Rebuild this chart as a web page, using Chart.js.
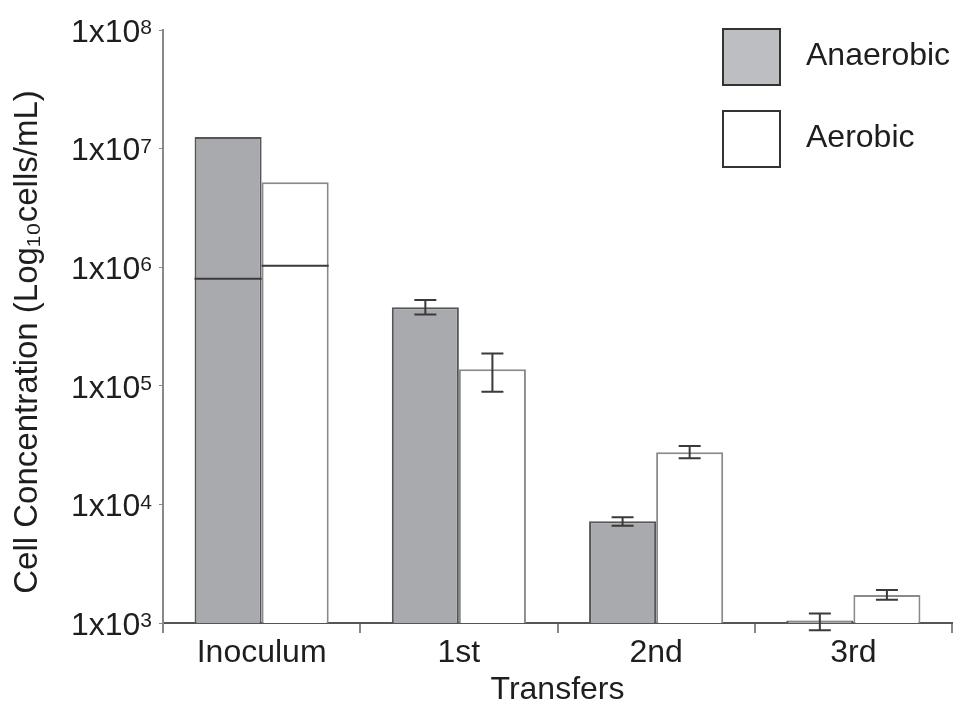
<!DOCTYPE html>
<html>
<head>
<meta charset="utf-8">
<script src="https://cdn.jsdelivr.net/npm/chart.js@4"></script>
<style>
  html, body { margin: 0; padding: 0; background: #fff; }
  #wrap { width: 956px; height: 712px; }
</style>
</head>
<body>
<div id="wrap"><canvas id="cells" width="956" height="712"></canvas></div>
<script>
const categories = ['Inoculum', '1st', '2nd', '3rd'];
const anaerobic = [1.25e7, 4.6e5, 7.2e3, 1.05e3];
const anaerobicLow = [8.0e5, 4.0e5, 6.6e3, 8.7e2];
const anaerobicHigh = [null, 5.3e5, 7.8e3, 1.2e3];
const aerobic = [5.2e6, 1.38e5, 2.75e4, 1.72e3];
const aerobicLow = [1.03e6, 8.9e4, 2.45e4, 1.57e3];
const aerobicHigh = [null, 1.87e5, 3.1e4, 1.9e3];
const yTicks = [1e3, 1e4, 1e5, 1e6, 1e7, 1e8];
const yTitle = 'Cell Concentration (Log\u2081\u2080cells/mL)';

const FONT = '"Liberation Sans", Arial, Helvetica, sans-serif';
const TEXT = '#1e1e1e';

// error bars; when there is no upper value the lower one spans the bar
const errorBars = {
  id: 'errorBars',
  afterDatasetsDraw(chart) {
    const ctx = chart.ctx;
    const y = chart.scales.y;
    const sets = [[anaerobicLow, anaerobicHigh], [aerobicLow, aerobicHigh]];
    ctx.save();
    ctx.strokeStyle = '#3a3a3a';
    ctx.lineWidth = 2;
    sets.forEach(([lo, hi], di) => {
      chart.getDatasetMeta(di).data.forEach((bar, i) => {
        const half = bar.width / 2;
        const yl = y.getPixelForValue(lo[i]);
        ctx.beginPath();
        if (hi[i] == null) {
          ctx.moveTo(bar.x - half, yl);
          ctx.lineTo(bar.x + half, yl);
        } else {
          const yh = y.getPixelForValue(hi[i]);
          const cap = 11;
          ctx.moveTo(bar.x, yl); ctx.lineTo(bar.x, yh);
          ctx.moveTo(bar.x - cap, yl); ctx.lineTo(bar.x + cap, yl);
          ctx.moveTo(bar.x - cap, yh); ctx.lineTo(bar.x + cap, yh);
        }
        ctx.stroke();
      });
    });
    ctx.restore();
  }
};

// "1x10" with a raised exponent, plus the rotated axis title
const powerLabels = {
  id: 'powerLabels',
  afterDraw(chart) {
    const ctx = chart.ctx;
    const y = chart.scales.y;
    ctx.save();
    ctx.fillStyle = TEXT;
    ctx.textAlign = 'right';
    y.ticks.forEach(t => {
      const py = y.getPixelForValue(t.value);
      const exp = String(Math.round(Math.log10(t.value)));
      ctx.font = '21px ' + FONT;
      ctx.textBaseline = 'top';
      ctx.fillText(exp, 152, py - 12);
      const ew = ctx.measureText(exp).width;
      ctx.font = '32px ' + FONT;
      ctx.textBaseline = 'middle';
      ctx.fillText('1x10', 152 - ew, py + 3);
    });
    ctx.translate(28, 342);
    ctx.rotate(-Math.PI / 2);
    ctx.textAlign = 'center';
    ctx.textBaseline = 'middle';
    ctx.font = '33px ' + FONT;
    ctx.fillText(yTitle, 0, 0);
    ctx.restore();
  }
};

const boxLegend = {
  id: 'boxLegend',
  afterDraw(chart) {
    const ctx = chart.ctx;
    const fills = ['#bdbec2', '#ffffff'];
    ctx.save();
    chart.data.datasets.forEach((ds, i) => {
      const top = 29 + i * 82;
      ctx.fillStyle = fills[i];
      ctx.fillRect(723, top, 57, 56);
      ctx.strokeStyle = '#333';
      ctx.lineWidth = 2;
      ctx.strokeRect(723, top, 57, 56);
      ctx.fillStyle = TEXT;
      ctx.font = '32px ' + FONT;
      ctx.textBaseline = 'middle';
      ctx.fillText(ds.label, 806, top + 27);
    });
    ctx.restore();
  }
};

new Chart(document.getElementById('cells'), {
  type: 'bar',
  data: {
    labels: categories,
    datasets: [
      { label: 'Anaerobic', data: anaerobic, backgroundColor: '#a9aaae', borderColor: '#555558', borderWidth: 2 },
      { label: 'Aerobic', data: aerobic, backgroundColor: '#ffffff', borderColor: '#8a8a8a', borderWidth: 2 }
    ]
  },
  options: {
    responsive: false,
    animation: false,
    categoryPercentage: 0.68,
    barPercentage: 1.0,
    layout: { padding: { left: 0, top: 30, right: 4, bottom: 0 } },
    plugins: { legend: { display: false }, tooltip: { enabled: false } },
    scales: {
      x: {
        offset: true,
        border: { color: '#555', width: 2 },
        grid: { display: true, offset: true, drawOnChartArea: false, tickLength: 10, color: '#888', lineWidth: 2 },
        ticks: { color: TEXT, font: { family: FONT, size: 32 }, padding: 1 },
        title: { display: true, text: 'Transfers', color: TEXT, font: { family: FONT, size: 32 }, padding: { top: 0, bottom: 3 } },
        afterFit(scale) { scale.height = 89; }
      },
      y: {
        type: 'logarithmic',
        min: 1e3,
        max: 1e8,
        border: { color: '#888', width: 2 },
        grid: { display: true, drawOnChartArea: false, tickLength: 4, color: '#888', lineWidth: 1 },
        afterBuildTicks(scale) { scale.ticks = yTicks.map(v => ({ value: v })); },
        ticks: { display: false },
        title: { display: false },
        afterFit(scale) { scale.width = 163; }
      }
    }
  },
  plugins: [errorBars, powerLabels, boxLegend]
});
</script>
</body>
</html>
